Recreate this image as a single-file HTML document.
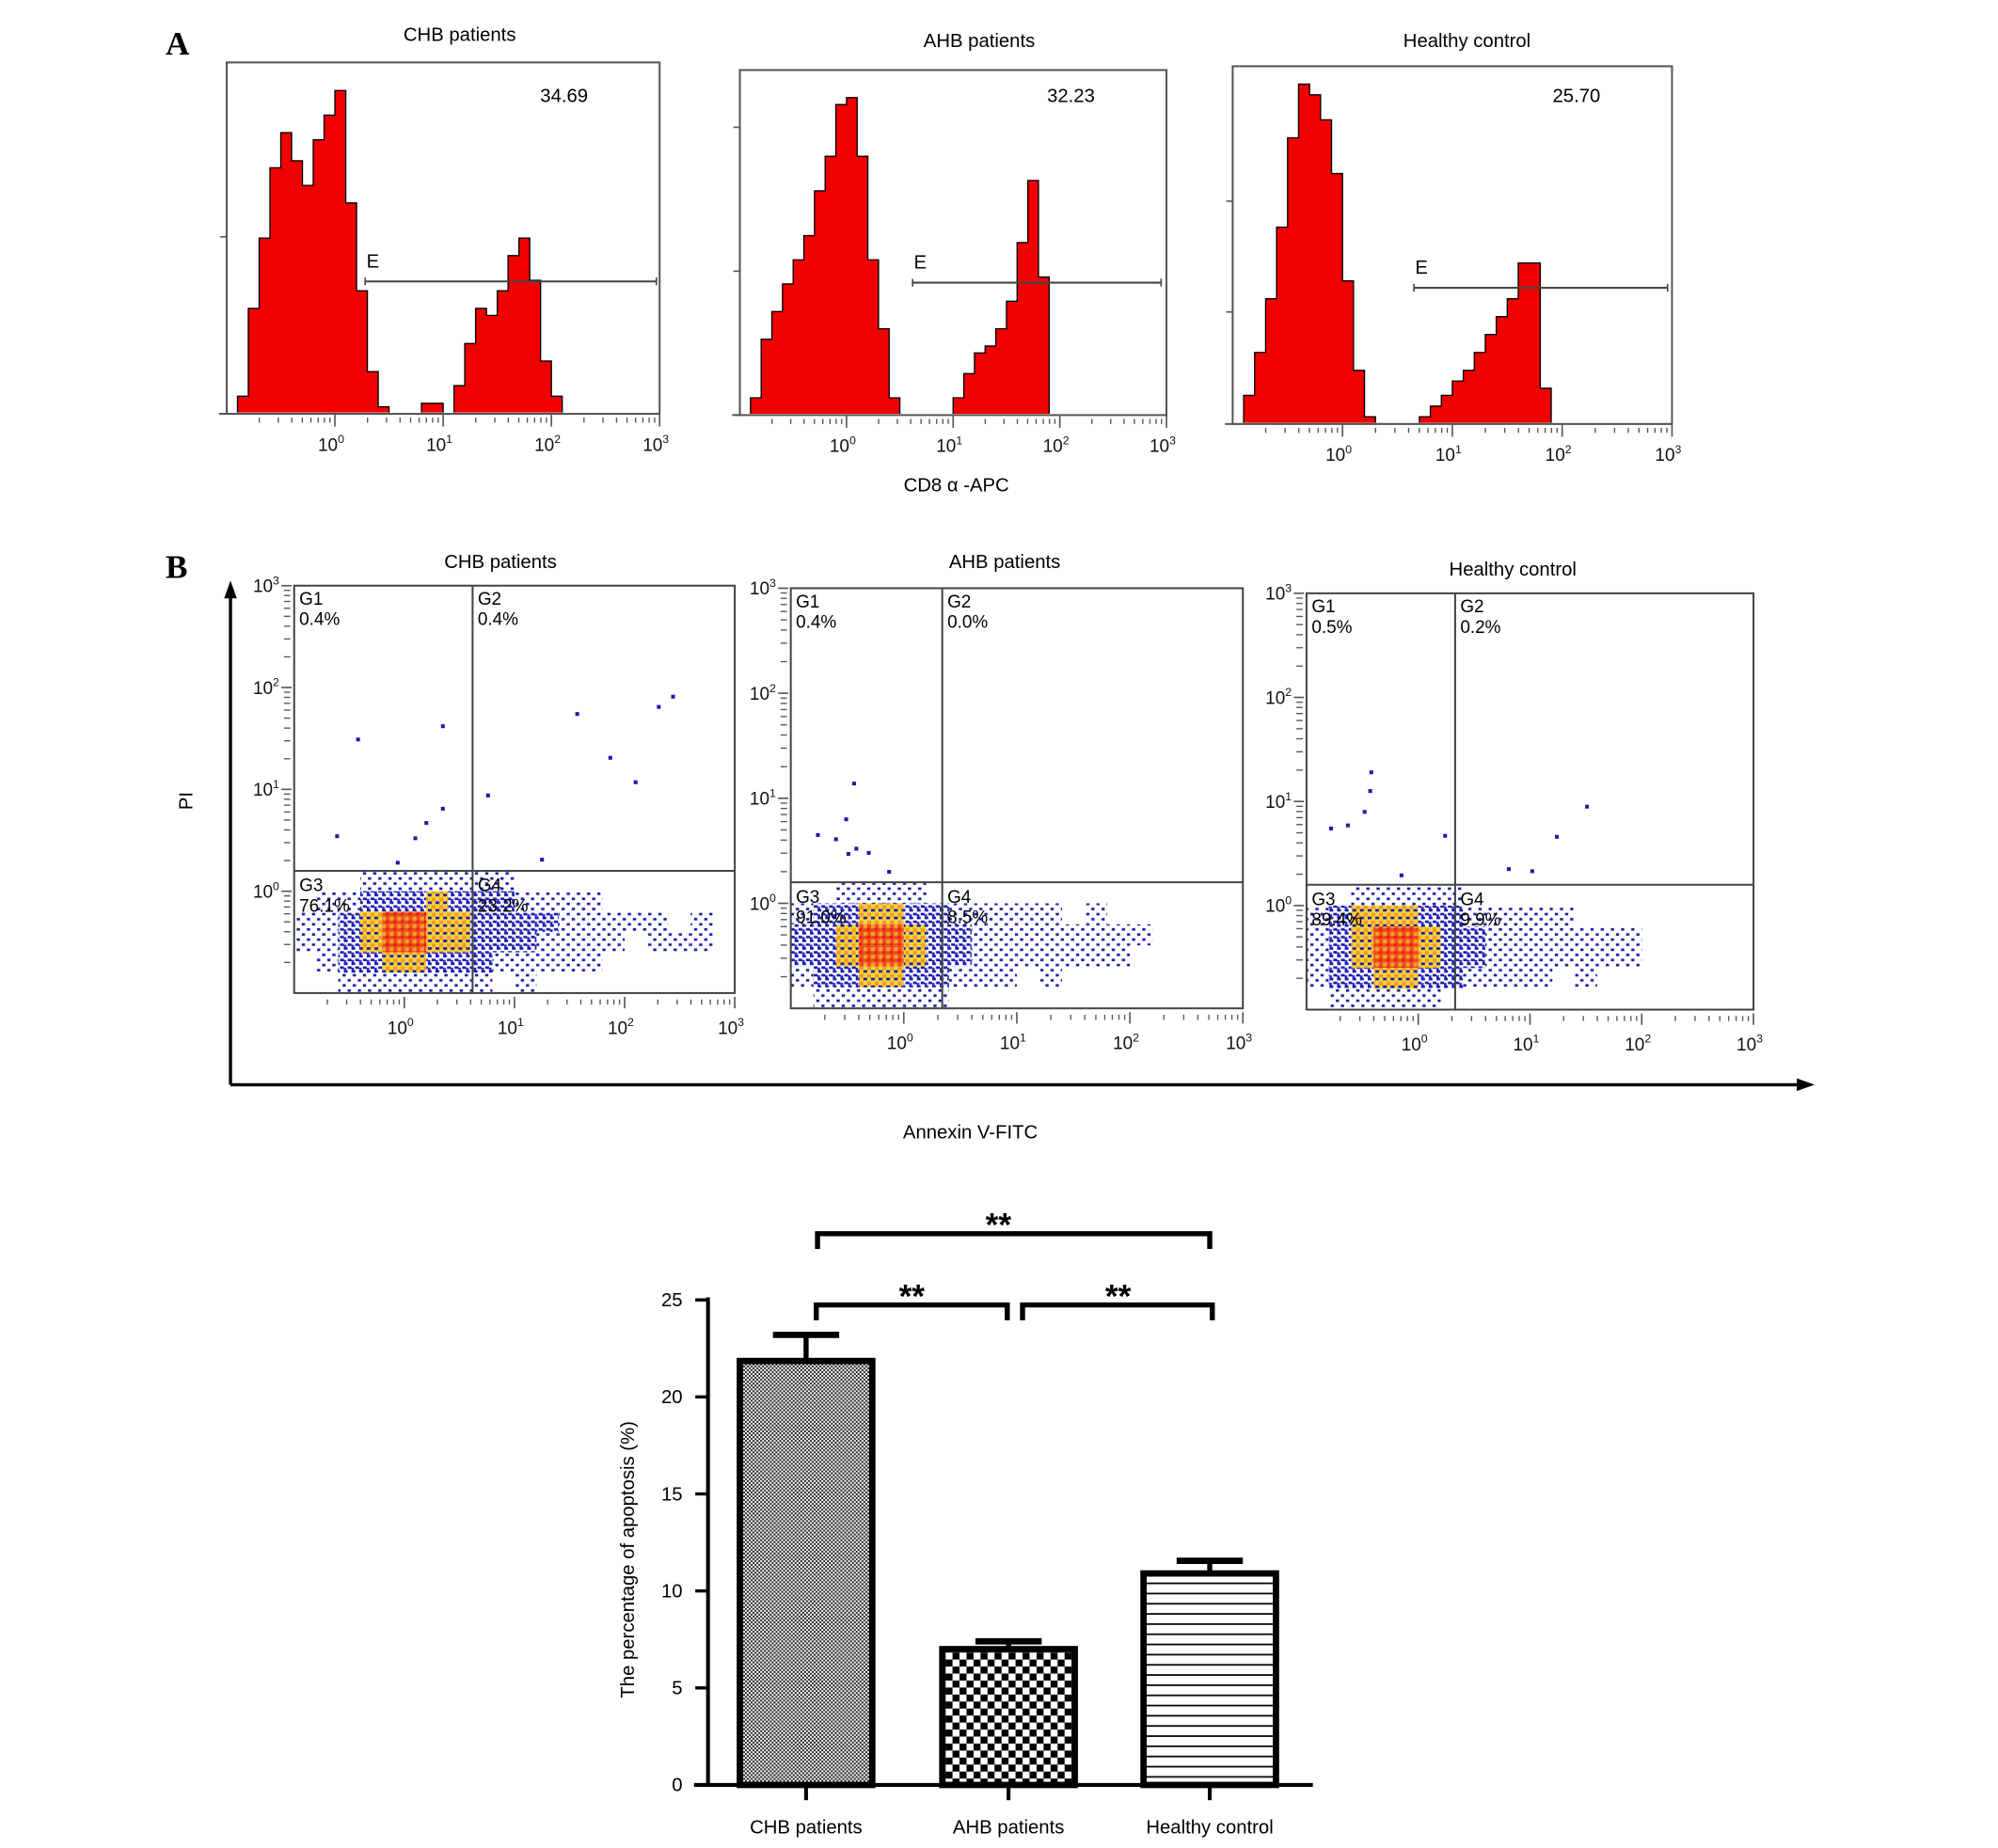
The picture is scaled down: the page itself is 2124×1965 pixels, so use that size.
<!DOCTYPE html>
<html><head><meta charset="utf-8"><style>
html,body{margin:0;padding:0;background:#fff;}
svg{display:block;font-family:"Liberation Sans",sans-serif;}
</style></head><body>
<svg id="fig" width="2124" height="1965" viewBox="0 0 1569 1451.5" xmlns="http://www.w3.org/2000/svg">
<defs>
<pattern id="pFine" width="3" height="3" patternUnits="userSpaceOnUse"><rect width="3" height="3" fill="#fff"/><rect width="1.5" height="1.5" fill="#222"/><rect x="1.5" y="1.5" width="1.5" height="1.5" fill="#222"/></pattern>
<pattern id="pCheck" width="11" height="11" patternUnits="userSpaceOnUse"><rect width="11" height="11" fill="#fff"/><rect width="5.5" height="5.5" fill="#000"/><rect x="5.5" y="5.5" width="5.5" height="5.5" fill="#000"/></pattern>
<pattern id="pLines" width="10" height="8" patternUnits="userSpaceOnUse"><rect width="10" height="8" fill="#fff"/><rect y="3" width="10" height="1.3" fill="#000"/></pattern>
<pattern id="d1" width="8" height="8" patternUnits="userSpaceOnUse"><rect x="1" y="1" width="2.5" height="2" fill="#1c1ca8"/><rect x="5" y="5" width="2.5" height="2" fill="#1c1ca8"/></pattern>
<pattern id="d2" width="6" height="6" patternUnits="userSpaceOnUse"><rect width="6" height="6" fill="#fff"/><rect x="0" y="0" width="3" height="2" fill="#1c1ca8"/><rect x="3" y="3" width="3" height="2" fill="#1c1ca8"/><rect x="0" y="4" width="2" height="2" fill="#2a2ad0"/></pattern>
<pattern id="d3" width="6" height="6" patternUnits="userSpaceOnUse"><rect width="6" height="6" fill="#f6d13a"/><rect x="0" y="0" width="3" height="2" fill="#1c1ca8"/><rect x="3" y="3" width="3" height="3" fill="#f29a22"/></pattern>
<pattern id="d4" width="6" height="6" patternUnits="userSpaceOnUse"><rect width="6" height="6" fill="#ef4a1e"/><rect x="0" y="0" width="3" height="3" fill="#f7a22a"/><rect x="3" y="3" width="2" height="2" fill="#d81e10"/></pattern>
<marker id="arr" markerUnits="userSpaceOnUse" markerWidth="14" markerHeight="12" refX="2" refY="6" orient="auto"><path d="M0,1 L14,6 L0,11 Z" fill="#000"/></marker>
</defs>
<text x="130" y="43" font-family="Liberation Serif,serif" font-weight="bold" font-size="26">A</text>
<text x="130" y="454" font-family="Liberation Serif,serif" font-weight="bold" font-size="26">B</text>
<text x="751" y="386" font-size="15" text-anchor="middle">CD8 α -APC</text>
<g>
<line x1="181" y1="852" x2="181" y2="468" stroke="#000" stroke-width="2.5" marker-end="url(#arr)"/>
<line x1="181" y1="852" x2="1413" y2="852" stroke="#000" stroke-width="2.5" marker-end="url(#arr)"/>
</g>
<text x="151" y="629" font-size="15" text-anchor="middle" transform="rotate(-90 151 629)">PI</text>
<text x="762" y="894" font-size="15" text-anchor="middle">Annexin V-FITC</text>
<g id="gA"></g><g id="gB"></g><g id="gC"></g>
</svg>
<script>
// ---------- Histogram data (fraction of max per 0.1-log bin, log -1..3) ----------
const histTitles = ["CHB patients","AHB patients","Healthy control"];
const histPercent = ["34.69","32.23","25.70"];
const histCHB = [0,0.05,0.3,0.5,0.7,0.8,0.72,0.65,0.78,0.85,0.92,0.6,0.35,0.12,0.02,0,0,0,0.03,0.03,0,0.08,0.2,0.3,0.28,0.35,0.45,0.5,0.38,0.15,0.05,0,0,0,0,0,0,0,0,0];
const histAHB = [0,0.05,0.22,0.3,0.38,0.45,0.52,0.65,0.75,0.9,0.92,0.75,0.45,0.25,0.05,0,0,0,0,0,0.05,0.12,0.18,0.2,0.25,0.33,0.5,0.68,0.4,0,0,0,0,0,0,0,0,0,0,0];
const histHC = [0,0.08,0.2,0.35,0.55,0.8,0.95,0.92,0.85,0.7,0.4,0.15,0.02,0,0,0,0,0.02,0.05,0.08,0.12,0.15,0.2,0.25,0.3,0.35,0.45,0.45,0.1,0,0,0,0,0,0,0,0,0,0,0];
const histGateStart = [0.28,0.62,0.65];
const histGateEnd = [2.97,2.95,2.96];
// ---------- Scatter data ----------
const scatTitles = ["CHB patients","AHB patients","Healthy control"];
const quadPct = [["0.4%","0.4%","76.1%","23.2%"],["0.4%","0.0%","91.0%","8.5%"],["0.5%","0.2%","89.4%","9.9%"]];
const quadX = [0.62,0.34,0.33];
const quadY = [0.2,0.2,0.2];
const densCHB = [
[0,0,0,1,1,1,1,1,1,1,0,0,0,0,0,0,0,0,0,0],
[0,1,1,2,2,2,3,2,2,2,1,1,1,1,0,0,0,0,0,0],
[1,1,2,3,4,4,3,3,2,2,2,2,1,1,1,1,1,0,1,0],
[1,1,2,3,4,4,3,3,2,2,2,1,1,1,1,0,1,1,1,0],
[0,1,2,2,3,3,2,2,2,1,1,1,1,1,0,0,0,0,0,0],
[0,0,1,1,1,1,1,1,1,0,1,0,0,0,0,0,0,0,0,0]];
const densAHB = [
[0,0,1,1,1,1,0,0,0,0,0,0,0,0,0,0,0,0,0,0],
[1,2,2,3,3,2,2,1,1,1,1,1,0,1,0,0,0,0,0,0],
[2,2,3,4,4,3,2,2,1,1,1,1,1,1,1,1,0,0,0,0],
[2,2,3,4,4,3,2,2,1,1,1,1,1,1,1,0,0,0,0,0],
[1,2,2,3,3,2,2,1,1,1,0,1,0,0,0,0,0,0,0,0],
[0,1,1,1,1,1,1,0,0,0,0,0,0,0,0,0,0,0,0,0]];
const densHC = [
[0,0,1,1,1,1,1,0,0,0,0,0,0,0,0,0,0,0,0,0],
[1,2,3,3,3,2,2,1,1,1,1,1,0,0,0,0,0,0,0,0],
[1,2,3,4,4,3,2,2,1,1,1,1,1,1,1,0,0,0,0,0],
[1,2,3,4,4,3,2,2,1,1,1,1,1,1,1,0,0,0,0,0],
[1,2,2,3,3,2,2,1,1,1,1,0,1,0,0,0,0,0,0,0],
[0,1,1,1,1,1,0,0,0,0,0,0,0,0,0,0,0,0,0,0]];
const ptsCHBx = [-0.42,0.35,-0.61,0.10,0.20,0.35,-0.06,0.76,1.57,2.31,2.44,1.87,2.10,1.25];
const ptsCHBy = [1.49,1.62,0.54,0.52,0.67,0.81,0.28,0.94,1.74,1.81,1.91,1.31,1.07,0.31];
const ptsAHBx = [-0.76,-0.60,-0.44,-0.49,-0.42,-0.31,-0.13,-0.51];
const ptsAHBy = [0.65,0.61,1.14,0.47,0.52,0.48,0.30,0.80];
const ptsHCx = [-0.78,-0.63,-0.48,-0.42,-0.43,0.24,0.81,1.02,1.24,1.51,-0.15];
const ptsHCy = [0.74,0.77,0.90,1.28,1.10,0.67,0.35,0.33,0.66,0.95,0.29];
// ---------- Bar chart data ----------
const barCats = ["CHB patients","AHB patients","Healthy control"];
const barVals = [21.85,7.0,10.9];
const barErr = [1.35,0.4,0.65];
const yTicks = [0,5,10,15,20,25];

const NS="http://www.w3.org/2000/svg";
const svg=document.getElementById('fig');
function mk(tag,attrs,parent){const e=document.createElementNS(NS,tag);for(const k in attrs)e.setAttribute(k,attrs[k]);(parent||svg).appendChild(e);return e;}
function pow10(x,y,exp,anchor,size,parent){
  const t=mk('text',{x:x,y:y,'font-size':size,'text-anchor':anchor,fill:'#111'},parent);
  
  
  t.appendChild(document.createTextNode('10'));
  const s=mk('tspan',{dy:-6,'font-size':size*0.65},t);s.textContent=exp;return t;}
const minorLogs=[0.301,0.477,0.602,0.699,0.778,0.845,0.903,0.954];

// ---------- Histograms ----------
const histBoxes=[{x0:178,x1:518,y0:49,y1:325,ty:32,tx:361,ticks:[186]},{x0:581,x1:916,y0:55,y1:326,ty:37,tx:769,ticks:[100,213]},{x0:968,x1:1313,y0:52,y1:333,ty:37,tx:1152,ticks:[158,245]}];
const histData=[histCHB,histAHB,histHC];
const gateYs=[221,222,226];
histBoxes.forEach((b,k)=>{
  const g=mk('g',{});
  
  
  const xs=l=>b.x0+(l+1)/4*(b.x1-b.x0);
  const hs=v=>b.y1-v*(b.y1-b.y0);
  const tt=mk('text',{x:b.tx,y:b.ty,'font-size':15,'text-anchor':'middle'},g);tt.textContent=histTitles[k];
  
  
  mk('rect',{x:b.x0,y:b.y0,width:b.x1-b.x0,height:b.y1-b.y0,fill:'none',stroke:'#555','stroke-width':1.5},g);
  let d='M'+xs(-1)+','+b.y1;
  histData[k].forEach((v,i)=>{d+=' L'+xs(-1+0.1*i)+','+hs(v)+' L'+xs(-1+0.1*(i+1))+','+hs(v);});
  d+=' L'+xs(3)+','+b.y1+' Z';
  const p=mk('path',{d:d,fill:'#f00000',stroke:'#000','stroke-width':1},g);
  
  
  mk('rect',{x:b.x0+1,y:b.y1-1,width:b.x1-b.x0-2,height:3,fill:'#fff'},g);
  mk('line',{x1:b.x0,y1:b.y1,x2:b.x1,y2:b.y1,stroke:'#555','stroke-width':1.5},g);
  mk('line',{x1:b.x0-6,y1:b.y1,x2:b.x0,y2:b.y1,stroke:'#555','stroke-width':1.5},g);
  b.ticks.forEach(t=>mk('line',{x1:b.x0-5,y1:t,x2:b.x0,y2:t,stroke:'#555','stroke-width':1.2},g));
  for(let dcd=-1;dcd<3;dcd++){minorLogs.forEach(m=>{const x=xs(dcd+m);mk('line',{x1:x,y1:b.y1+3,x2:x,y2:b.y1+7,stroke:'#555','stroke-width':1},g);});}
  for(let dcd=0;dcd<=3;dcd++){const x=xs(dcd);mk('line',{x1:x,y1:b.y1,x2:x,y2:b.y1+10,stroke:'#555','stroke-width':1.2},g);pow10(x-3,b.y1+29,String(dcd),'middle',14,g);}
  const gy=gateYs[k];
  const gl=mk('line',{x1:xs(histGateStart[k]),y1:gy,x2:xs(histGateEnd[k]),y2:gy,stroke:'#444','stroke-width':1.5},g);
  
  
  [histGateStart[k],histGateEnd[k]].forEach(l=>mk('line',{x1:xs(l),y1:gy-3,x2:xs(l),y2:gy+3,stroke:'#444','stroke-width':1.2},g));
  const et=mk('text',{x:xs(histGateStart[k])+1,y:gy-11,'font-size':15},g);et.textContent='E';
  const pt=mk('text',{x:b.x1-75,y:80,'font-size':15,'text-anchor':'middle'},g);pt.textContent=histPercent[k];
  
  
});

// ---------- Scatter plots ----------
const scBoxes=[{x0:231,x1:577,y0:460,y1:780,ty:446,tx:393},{x0:621,x1:976,y0:462,y1:792,ty:446,tx:789},{x0:1026,x1:1377,y0:466,y1:793,ty:452,tx:1188}];
const dens=[densCHB,densAHB,densHC];
const ptsX=[ptsCHBx,ptsAHBx,ptsHCx], ptsY=[ptsCHBy,ptsAHBy,ptsHCy];
scBoxes.forEach((b,k)=>{
  const g=mk('g',{});
  
  
  const xs=l=>b.x0+(l+1)/4*(b.x1-b.x0);
  const ys=l=>b.y1-(l+1)/4*(b.y1-b.y0);
  const tt=mk('text',{x:b.tx,y:b.ty,'font-size':15,'text-anchor':'middle'},g);tt.textContent=scatTitles[k];
  
  
  const cid='clip'+k;const cp=mk('clipPath',{id:cid},g);mk('rect',{x:b.x0,y:b.y0,width:b.x1-b.x0,height:b.y1-b.y0},cp);
  const cg=mk('g',{'clip-path':'url(#'+cid+')'},g);
  dens[k].forEach((row,r)=>row.forEach((v,c)=>{
    if(!v)return;
    const x0=xs(-1+0.2*c),x1=xs(-1+0.2*(c+1)),y0=ys(0.2-0.2*r),y1=ys(-0.2*r);
    const cell=mk('rect',{x:x0,y:y0,width:x1-x0,height:y1-y0,fill:'url(#d'+v+')'},cg);
    
    
  }));
  ptsX[k].forEach((lx,i)=>{
    const d=mk('rect',{x:xs(lx)-1.5,y:ys(ptsY[k][i])-1.5,width:3,height:3,fill:'#1c1ca8'},g);
    
    
  });
  mk('rect',{x:b.x0,y:b.y0,width:b.x1-b.x0,height:b.y1-b.y0,fill:'none',stroke:'#444','stroke-width':1.5},g);
  const qx=xs(quadX[k]),qy=ys(quadY[k]);
  mk('line',{x1:qx,y1:b.y0,x2:qx,y2:b.y1,stroke:'#444','stroke-width':1.5},g);
  mk('line',{x1:b.x0,y1:qy,x2:b.x1,y2:qy,stroke:'#444','stroke-width':1.5},g);
  const labs=[['G1',b.x0+4,b.y0+15],['G2',qx+4,b.y0+15],['G3',b.x0+4,qy+16],['G4',qx+4,qy+16]];
  labs.forEach((L,i)=>{
    const t=mk('text',{x:L[1],y:L[2],'font-size':14},g);t.textContent=L[0];
    
    
    const p=mk('text',{x:L[1],y:L[2]+16,'font-size':14},g);p.textContent=quadPct[k][i];
    
    
  });
  for(let dcd=-1;dcd<3;dcd++){minorLogs.forEach(m=>{
    const x=xs(dcd+m);mk('line',{x1:x,y1:b.y1+5,x2:x,y2:b.y1+9,stroke:'#555','stroke-width':1},g);
    const y=ys(dcd+m);mk('line',{x1:b.x0-8,y1:y,x2:b.x0-3,y2:y,stroke:'#555','stroke-width':1},g);
  });}
  for(let dcd=0;dcd<=3;dcd++){
    const x=xs(dcd);mk('line',{x1:x,y1:b.y1+3,x2:x,y2:b.y1+12,stroke:'#555','stroke-width':1.2},g);pow10(x-3,b.y1+32,String(dcd),'middle',14,g);
    const y=ys(dcd);mk('line',{x1:b.x0-10,y1:y,x2:b.x0-2,y2:y,stroke:'#555','stroke-width':1.2},g);pow10(b.x0-22,y+5,String(dcd),'middle',14,g);
  }
});

// ---------- Bar chart ----------
(function(){
  const g=mk('g',{});
  
  
  const yAxisX=556, y0=1402, pxPer=15.24, barW=104, centers=[633,792,950];
  const ys=v=>y0-v*pxPer;
  const fills=['url(#pFine)','url(#pCheck)','url(#pLines)'];
  barVals.forEach((v,i)=>{
    const cx=centers[i];
    const top=ys(v+barErr[i]);
    mk('line',{x1:cx,y1:ys(v),x2:cx,y2:top,stroke:'#000','stroke-width':4},g);
    mk('line',{x1:cx-26,y1:top,x2:cx+26,y2:top,stroke:'#000','stroke-width':5},g);
    const r=mk('rect',{x:cx-barW/2,y:ys(v),width:barW,height:v*pxPer,fill:fills[i],stroke:'#000','stroke-width':5},g);
    
    
    mk('line',{x1:cx,y1:y0,x2:cx,y2:y0+12,stroke:'#000','stroke-width':3},g);
    const t=mk('text',{x:cx,y:1440,'font-size':15,'text-anchor':'middle'},g);t.textContent=barCats[i];
    
    
  });
  mk('line',{x1:yAxisX,y1:ys(25)-2,x2:yAxisX,y2:y0,stroke:'#000','stroke-width':3},g);
  mk('line',{x1:545,y1:y0,x2:1031,y2:y0,stroke:'#000','stroke-width':3},g);
  yTicks.forEach(v=>{
    mk('line',{x1:546,y1:ys(v),x2:yAxisX,y2:ys(v),stroke:'#000','stroke-width':2.5},g);
    const t=mk('text',{x:536,y:ys(v)+5,'font-size':15,'text-anchor':'end'},g);t.textContent=v;
    
    
  });
  const yt=mk('text',{x:498,y:1225,'font-size':15,'text-anchor':'middle',transform:'rotate(-90 498 1225)'},g);
  yt.textContent='The percentage of apoptosis (%)';
  
  
  const brk=[[642,950,969,981,784],[641,791,1025,1037,716],[803,952,1025,1037,878]];
  brk.forEach(B=>{
    const p=mk('path',{d:'M'+B[0]+','+B[3]+' L'+B[0]+','+B[2]+' L'+B[1]+','+B[2]+' L'+B[1]+','+B[3],fill:'none',stroke:'#000','stroke-width':4},g);
    
    
    const s=mk('text',{x:B[4],y:B[2]+2,'font-size':26,'text-anchor':'middle','font-weight':'bold'},g);s.textContent='**';
    
    
  });
})();
</script>
</body></html>
